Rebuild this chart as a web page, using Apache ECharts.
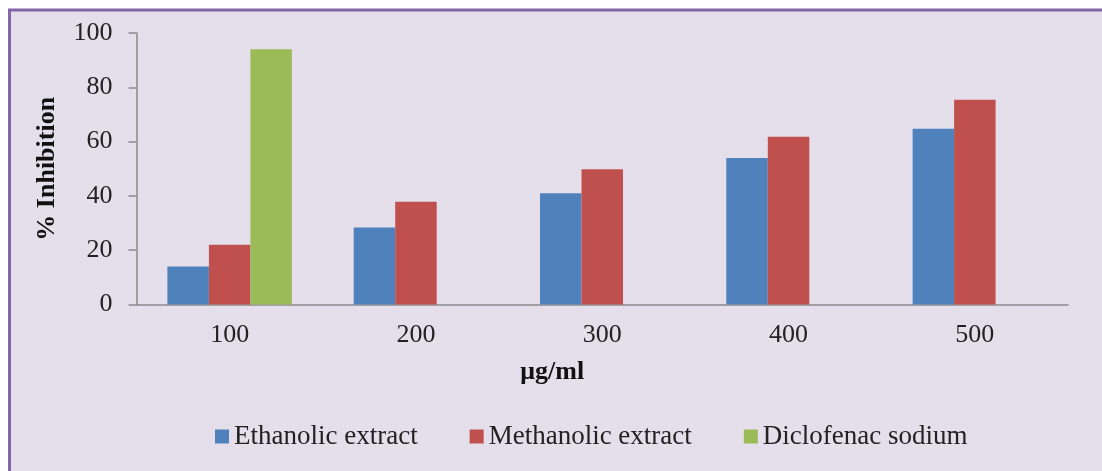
<!DOCTYPE html>
<html>
<head>
<meta charset="utf-8">
<script src="https://cdn.jsdelivr.net/npm/echarts@6/dist/echarts.min.js"></script>
<style>
html,body{margin:0;padding:0;background:#fff;}
#c{width:1102px;height:471px;}
</style>
</head>
<body>
<div id="c"></div>
<script>
const categories = ['100', '200', '300', '400', '500'];
const ethanolic = [14, 28.4, 41, 54, 64.7];
const methanolic = [22, 37.8, 49.8, 61.8, 75.4];
const diclofenac = [94, null, null, null, null];
const yTicks = { min: 0, max: 100, interval: 20 };

const FONT = '"Liberation Serif", "DejaVu Serif", serif';
const chart = echarts.init(document.getElementById('c'), null, { renderer: 'canvas' });
chart.setOption({
  backgroundColor: '#ffffff',
  animation: false,
  textStyle: { fontFamily: FONT },
  graphic: [{
    type: 'rect', z: -10, silent: true,
    shape: { x: 9.5, y: 10, width: 1200, height: 600 },
    style: { fill: '#e5dfec', stroke: '#8466aa', lineWidth: 3 }
  }],
  grid: { left: 136.5, right: 34, top: 33, bottom: 166.5 },
  legend: {
    left: 210, top: 418,
    itemWidth: 14, itemHeight: 14, itemGap: 52,
    icon: 'rect',
    textStyle: { fontFamily: FONT, fontSize: 27, color: '#222' },
    data: ['Ethanolic extract', 'Methanolic extract', 'Diclofenac sodium']
  },
  xAxis: {
    type: 'category',
    data: categories,
    name: 'μg/ml',
    nameLocation: 'middle',
    nameGap: 55,
    nameTextStyle: { fontFamily: FONT, fontSize: 26, fontWeight: 'bold', color: '#111', padding: [0, 100, 0, 0] },
    axisLine: { lineStyle: { color: '#8a8a8a', width: 1.5 } },
    axisTick: { length: 7, lineStyle: { color: '#8a8a8a', width: 1.5 } },
    axisLabel: { fontFamily: FONT, fontSize: 26, color: '#222', margin: 18 }
  },
  yAxis: {
    type: 'value',
    min: yTicks.min, max: yTicks.max, interval: yTicks.interval,
    name: '% Inhibition',
    nameLocation: 'middle',
    nameGap: 76,
    nameTextStyle: { fontFamily: FONT, fontSize: 26, fontWeight: 'bold', color: '#111' },
    axisLine: { show: true, lineStyle: { color: '#8a8a8a', width: 1.5 } },
    axisTick: { show: true, length: 8, lineStyle: { color: '#8a8a8a', width: 1.5 } },
    splitLine: { show: false },
    axisLabel: { fontFamily: FONT, fontSize: 26, color: '#222', margin: 24 }
  },
  series: [
    { name: 'Ethanolic extract', type: 'bar', data: ethanolic, barWidth: 41.5, barGap: '0%', itemStyle: { color: '#4f81bd' } },
    { name: 'Methanolic extract', type: 'bar', data: methanolic, barWidth: 41.5, barGap: '0%', itemStyle: { color: '#c0504d' } },
    { name: 'Diclofenac sodium', type: 'bar', data: diclofenac, barWidth: 41.5, barGap: '0%', itemStyle: { color: '#9bbb59' } }
  ]
});
</script>
</body>
</html>
